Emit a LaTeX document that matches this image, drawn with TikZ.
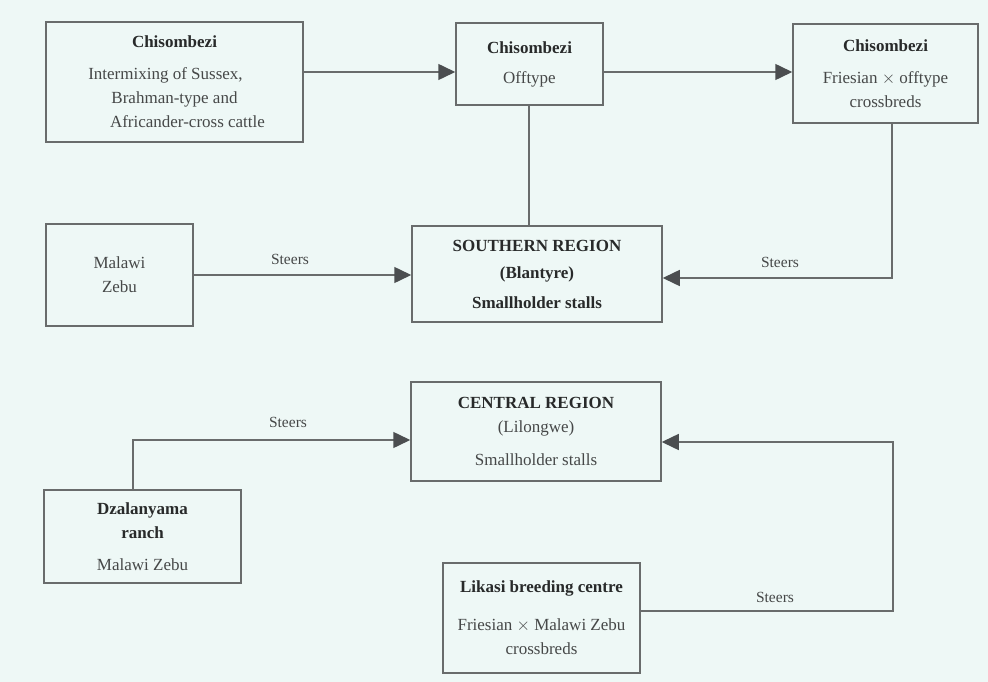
\documentclass[tikz,border=0pt]{standalone}
\usepackage{fontspec}
\setmainfont{Liberation Serif}
\usetikzlibrary{arrows.meta}
\definecolor{bgc}{RGB}{238,248,246}
\definecolor{linec}{RGB}{105,108,108}
\definecolor{tipc}{RGB}{75,78,80}
\definecolor{txtc}{RGB}{70,72,72}
\definecolor{boldc}{RGB}{40,42,42}
\begin{document}
\begin{tikzpicture}[x=1pt,y=-1pt,
  box/.style={draw=linec,line width=1.5pt,fill=bgc,align=center,inner sep=0pt,
    text=txtc,font=\fontsize{17}{24}\selectfont},
  lab/.style={text=txtc,font=\fontsize{15.5}{18}\selectfont,inner sep=0pt},
  arr/.style={draw=linec,line width=1.5pt,-{Triangle[length=17pt,width=16pt,color=tipc]}},
  ln/.style={draw=linec,line width=1.5pt}]
\fill[bgc] (0,0) rectangle (988,682);
\useasboundingbox (0,0) rectangle (988,682);
\newcommand{\hdt}[1]{{\color{boldc}\bfseries #1}}
% boxes
\node[box,minimum width=257pt,minimum height=120pt] (b1) at (174.5,82)
  {\hdt{Chisombezi}\\[8pt]\hspace*{-18pt}Intermixing of Sussex,\\Brahman-type and\\\hspace*{26pt}Africander-cross cattle};
\node[box,minimum width=147pt,minimum height=82pt] (b2) at (529.5,64)
  {\hdt{Chisombezi}\\[6pt]Offtype};
\node[box,minimum width=185pt,minimum height=99pt] (b3) at (885.5,73.5)
  {\hdt{Chisombezi}\\[8pt]Friesian $\times$ offtype\\crossbreds};
\node[box,minimum width=250pt,minimum height=96pt] (sr) at (537,274)
  {\hdt{SOUTHERN REGION}\\[3pt]\hdt{(Blantyre)}\\[6pt]\hdt{Smallholder stalls}};
\node[box,minimum width=147pt,minimum height=102pt] (mz) at (119.5,275)
  {Malawi\\Zebu};
\node[box,minimum width=250pt,minimum height=99pt] (cr) at (536,431.5)
  {\hdt{CENTRAL REGION}\\(Lilongwe)\\[9pt]Smallholder stalls};
\node[box,minimum width=197pt,minimum height=93pt] (dz) at (142.5,536.5)
  {\hdt{Dzalanyama}\\\hdt{ranch}\\[8pt]Malawi Zebu};
\node[box,minimum width=197pt,minimum height=110pt] (lk) at (541.5,618)
  {\hdt{Likasi breeding centre}\\[14pt]Friesian $\times$ Malawi Zebu\\crossbreds};
% connectors
\draw[arr] ([yshift=10pt]b1.east) -- ([yshift=10pt]b1.east -| b2.west);
\draw[arr] ([yshift=-8pt]b2.east) -- ([yshift=-8pt]b2.east -| b3.west);
\draw[ln] ([xshift=-0.5pt]b2.south) -- ([xshift=-0.5pt]b2.south |- sr.north);
\draw[arr] ([xshift=6.5pt]b3.south) |- ([yshift=-4pt]sr.east);
\draw[arr] (mz.east) -- (mz.east -| sr.west);
\draw[arr] ([xshift=-9.5pt]dz.north) |- ([yshift=-8.5pt]cr.west);
\draw[arr] ([yshift=7pt]lk.east) -- ++(252,0) |- ([yshift=-10.5pt]cr.east);
% labels
\node[lab] (s1) at (290,259) {Steers};
\node[lab] (s2) at (780,262) {Steers};
\node[lab] (s3) at (288,422) {Steers};
\node[lab] (s4) at (775,597) {Steers};
\end{tikzpicture}
\end{document}
